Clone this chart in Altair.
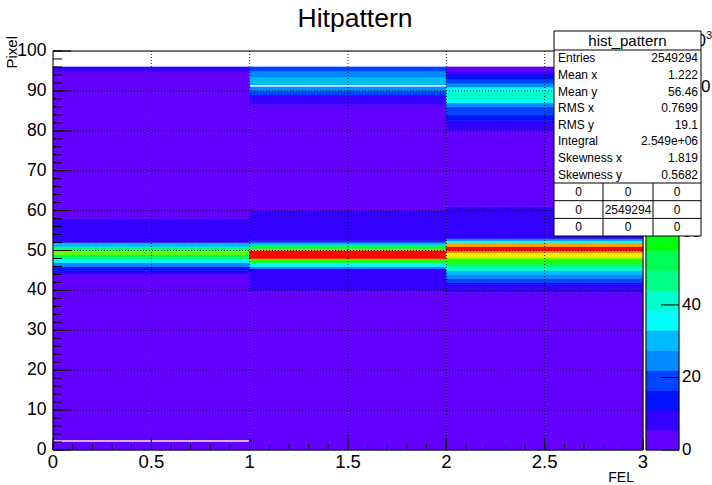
import altair as alt
import pandas as pd
import colorsys

# ---------------- data ----------------
TITLE = "Hitpattern"
X_TITLE = "FEL"
Y_TITLE = "Pixel"
ZMAX = 110000  # top of the colour palette

# FEL columns: [0,1], [1,2], [2,3]; each column: Pixel bin edges + contents
c0_edges = [0, 2.0, 2.5, 44, 45, 46, 47, 48, 49, 50, 51, 52, 58, 95, 96]
c0_counts = [2600, 0, 2800, 8000, 13000, 24000, 35000, 52000, 68000, 46000,
             30000, 7500, 3000, 6500]

c1_edges = [0, 40, 45.5, 46, 47, 48, 50, 50.5, 51.5, 52, 52.5, 60, 86.5, 89,
            90, 91, 91.5, 93.5, 95, 96]
c1_counts = [3000, 8500, 25000, 36000, 63000, 109000, 90000, 52000, 30000,
             19000, 8000, 2900, 7000, 19000, 24500, 0, 30000, 25000, 19500]

c2_edges = [0, 39.5, 41.5, 42, 43, 44, 45, 46, 47, 48, 48.5, 49.5, 50, 51, 52,
            52.5, 53, 61, 80, 82.5, 84, 86, 87, 88, 90, 91, 92, 93, 94, 95, 96]
c2_counts = [2800, 8000, 13500, 19000, 24500, 30000, 41000, 52000, 63000,
             74000, 85000, 96000, 108000, 90000, 35000, 24000, 8200, 3000,
             7800, 13000, 18500, 24000, 35000, 41000, 35000, 24500, 19000,
             13500, 8000, 3000]

x_ticks_major = [0, 0.5, 1, 1.5, 2, 2.5, 3]
x_tick_labels = ["0", "0.5", "1", "1.5", "2", "2.5", "3"]
x_ticks_minor = [i / 10 for i in range(0, 31)]
y_ticks_major = list(range(0, 101, 10))
y_tick_labels = [str(v) for v in y_ticks_major]
y_ticks_minor = list(range(0, 101, 2))
x_grid = [0.5, 1, 1.5, 2, 2.5]
y_grid = list(range(10, 100, 10))
palette_labels = [0, 20, 40, 60, 80, 100]  # x10^3

stat_names = ["Entries", "Mean x", "Mean y", "RMS x", "RMS y", "Integral",
              "Skewness x", "Skewness y"]
stat_values = ["2549294", "1.222", "56.46", "0.7699", "19.1", "2.549e+06",
               "1.819", "0.5682"]
table_values = [["0", "0", "0"], ["0", "2549294", "0"], ["0", "0", "0"]]
STATS_TITLE = "hist_pattern"

# ---------------- styling ----------------
FONT = "Liberation Sans"
W, H = 590, 399
PL, PT = 53, 51            # plot origin on the canvas
NLEV = 20

colors = []
for k in range(NLEV):
    idx = int(0.01 + (k + 0.99) * 50 / NLEV)
    hue = 280 - (idx + 1) * (280 / 50)
    r, g, b = colorsys.hls_to_rgb(hue / 360.0, 0.5, 1.0)
    colors.append("#%02x%02x%02x" % (round(r * 255), round(g * 255), round(b * 255)))
thresholds = [ZMAX * k / NLEV for k in range(1, NLEV)]
cscale = alt.Scale(type="threshold", domain=thresholds, range=colors)

xscale = alt.Scale(domain=[0, 3], nice=False, zero=False)
yscale = alt.Scale(domain=[0, 100], nice=False, zero=False)

rows = []
for xi, (edges, counts) in enumerate([(c0_edges, c0_counts),
                                      (c1_edges, c1_counts),
                                      (c2_edges, c2_counts)]):
    for lo, hi, c in zip(edges[:-1], edges[1:], counts):
        if c > 0:
            rows.append(dict(x0=xi, x1=xi + 1, y0=lo, y1=hi, count=c))
df = pd.DataFrame(rows)

heat = alt.Chart(df).mark_rect(strokeWidth=0.6).encode(
    x=alt.X("x0:Q", scale=xscale, axis=None),
    x2="x1:Q",
    y=alt.Y("y0:Q", scale=yscale, axis=None),
    y2="y1:Q",
    color=alt.Color("count:Q", scale=cscale, legend=None),
    stroke=alt.Stroke("count:Q", scale=cscale, legend=None),
)

# grid
ygrid = alt.Chart(pd.DataFrame({"v": y_grid})).mark_rule(
    color="black", strokeDash=[1, 2], strokeWidth=1, opacity=0.85
).encode(y=alt.Y("v:Q", scale=yscale, axis=None), x=alt.value(0), x2=alt.value(W))
xgrid = alt.Chart(pd.DataFrame({"v": x_grid})).mark_rule(
    color="black", strokeDash=[1, 2], strokeWidth=1, opacity=0.85
).encode(x=alt.X("v:Q", scale=xscale, axis=None), y=alt.value(0), y2=alt.value(H))

# ticks (inside the frame, as ROOT draws them)
ytm = alt.Chart(pd.DataFrame({"v": y_ticks_major})).mark_rule(color="black").encode(
    y=alt.Y("v:Q", scale=yscale, axis=None), x=alt.value(0), x2=alt.value(18))
ytn = alt.Chart(pd.DataFrame({"v": y_ticks_minor})).mark_rule(color="black").encode(
    y=alt.Y("v:Q", scale=yscale, axis=None), x=alt.value(0), x2=alt.value(9))
xtm = alt.Chart(pd.DataFrame({"v": x_ticks_major})).mark_rule(color="black").encode(
    x=alt.X("v:Q", scale=xscale, axis=None), y=alt.value(H), y2=alt.value(H - 12))
xtn = alt.Chart(pd.DataFrame({"v": x_ticks_minor})).mark_rule(color="black").encode(
    x=alt.X("v:Q", scale=xscale, axis=None), y=alt.value(H), y2=alt.value(H - 6))

# tick labels
ylab = alt.Chart(pd.DataFrame({"v": y_ticks_major, "t": y_tick_labels})).mark_text(
    font=FONT, fontSize=17.5, align="right", baseline="middle", color="black"
).encode(y=alt.Y("v:Q", scale=yscale, axis=None), x=alt.value(-6.5), text="t:N")
xlab = alt.Chart(pd.DataFrame({"v": x_ticks_major, "t": x_tick_labels})).mark_text(
    font=FONT, fontSize=18.5, align="center", baseline="top", color="black"
).encode(x=alt.X("v:Q", scale=xscale, axis=None), y=alt.value(H + 3), text="t:N")

frame = alt.Chart(pd.DataFrame({"a": [0]})).mark_rect(
    filled=False, stroke="black", strokeWidth=1
).encode(x=alt.value(0), x2=alt.value(W), y=alt.value(0), y2=alt.value(H))

# palette
pal = pd.DataFrame({"k": list(range(NLEV))})
pal["y0"] = pal["k"] * 100.0 / NLEV
pal["y1"] = (pal["k"] + 1) * 100.0 / NLEV
pal["mid"] = (pal["k"] + 0.5) * ZMAX / NLEV
PX0, PX1 = 646 - PL, 679 - PL
palette = alt.Chart(pal).mark_rect(strokeWidth=0.6).encode(
    x=alt.value(PX0), x2=alt.value(PX1),
    y=alt.Y("y0:Q", scale=yscale, axis=None), y2="y1:Q",
    color=alt.Color("mid:Q", scale=cscale, legend=None),
    stroke=alt.Stroke("mid:Q", scale=cscale, legend=None),
)
pframe = alt.Chart(pd.DataFrame({"a": [0]})).mark_rect(
    filled=False, stroke="black", strokeWidth=1
).encode(x=alt.value(PX0), x2=alt.value(PX1), y=alt.value(0), y2=alt.value(H))

plab = pd.DataFrame({"v": palette_labels})
plab["y"] = plab["v"] * 1000.0 / ZMAX * 100.0
plab["t"] = plab["v"].astype(str)
ptick = alt.Chart(plab).mark_rule(color="black").encode(
    y=alt.Y("y:Q", scale=yscale, axis=None), x=alt.value(PX1 - 18), x2=alt.value(PX1))
ptext = alt.Chart(plab).mark_text(
    font=FONT, fontSize=17, align="left", baseline="middle", color="black"
).encode(y=alt.Y("y:Q", scale=yscale, axis=None), x=alt.value(PX1 + 3), text="t:N")
pexp = alt.Chart(pd.DataFrame({"t": ["10"]})).mark_text(
    font=FONT, fontSize=17, align="right", baseline="alphabetic", color="black"
).encode(x=alt.value(706 - PL), y=alt.value(46 - PT), text="t:N")
pexp3 = alt.Chart(pd.DataFrame({"t": ["3"]})).mark_text(
    font=FONT, fontSize=11, align="left", baseline="alphabetic", color="black"
).encode(x=alt.value(706 - PL), y=alt.value(39 - PT), text="t:N")

# stats box
BX0, BX1, BY0, BY1 = 554 - PL, 701 - PL, 31 - PT, 236 - PT
HB = 50 - PT
TB = 183 - PT
box = alt.Chart(pd.DataFrame({"a": [0]})).mark_rect(
    fill="white", stroke="black", strokeWidth=1
).encode(x=alt.value(BX0), x2=alt.value(BX1), y=alt.value(BY0), y2=alt.value(BY1))
hline = alt.Chart(pd.DataFrame({"yy": [HB, TB, TB + 17.7, TB + 35.4]})).mark_rule(
    color="black", strokeWidth=1
).encode(y=alt.Y("yy:Q", scale=None, axis=None), x=alt.value(BX0), x2=alt.value(BX1))
vline = alt.Chart(pd.DataFrame({"xx": [603 - PL, 653 - PL]})).mark_rule(
    color="black", strokeWidth=1
).encode(x=alt.X("xx:Q", scale=None, axis=None), y=alt.value(TB), y2=alt.value(BY1))
stitle = alt.Chart(pd.DataFrame({"t": [STATS_TITLE]})).mark_text(
    font=FONT, fontSize=15, align="center", baseline="middle", color="black"
).encode(x=alt.value((BX0 + BX1) / 2), y=alt.value((BY0 + HB) / 2), text="t:N")

row_h = (TB - HB) / len(stat_names)
sdf = pd.DataFrame({"name": stat_names, "val": stat_values})
sdf["yy"] = [HB + row_h * (i + 0.5) for i in range(len(stat_names))]
sname = alt.Chart(sdf).mark_text(
    font=FONT, fontSize=12, align="left", baseline="middle", color="black"
).encode(x=alt.value(BX0 + 4), y=alt.Y("yy:Q", scale=None, axis=None), text="name:N")
sval = alt.Chart(sdf).mark_text(
    font=FONT, fontSize=12, align="right", baseline="middle", color="black"
).encode(x=alt.value(BX1 - 3), y=alt.Y("yy:Q", scale=None, axis=None), text="val:N")

trows = []
cxs = [(554 + 603) / 2 - PL, (603 + 653) / 2 - PL, (653 + 701) / 2 - PL]
for r, rowv in enumerate(table_values):
    for c, v in enumerate(rowv):
        trows.append(dict(xx=cxs[c], yy=TB + 17.7 * (r + 0.5), t=v))
ttext = alt.Chart(pd.DataFrame(trows)).mark_text(
    font=FONT, fontSize=12, align="center", baseline="middle", color="black"
).encode(x=alt.X("xx:Q", scale=None, axis=None), y=alt.Y("yy:Q", scale=None, axis=None), text="t:N")

# titles
title = alt.Chart(pd.DataFrame({"t": [TITLE]})).mark_text(
    font=FONT, fontSize=26.5, align="center", baseline="middle", color="black"
).encode(x=alt.value(355 - PL), y=alt.value(19 - PT), text="t:N")
ytitle = alt.Chart(pd.DataFrame({"t": [Y_TITLE]})).mark_text(
    font=FONT, fontSize=15, align="right", baseline="middle", angle=270, color="black"
).encode(x=alt.value(12 - PL), y=alt.value(36 - PT), text="t:N")
xtitle = alt.Chart(pd.DataFrame({"t": [X_TITLE]})).mark_text(
    font=FONT, fontSize=14, align="right", baseline="middle", color="black"
).encode(x=alt.value(634 - PL), y=alt.value(478 - PT), text="t:N")

chart = alt.layer(
    heat, ygrid, xgrid, ytm, ytn, xtm, xtn, frame, ylab, xlab,
    palette, ptick, pframe, ptext, pexp, pexp3,
    box, hline, vline, stitle, sname, sval, ttext,
    title, ytitle, xtitle,
).resolve_scale(color="independent", stroke="independent").properties(
    width=W, height=H,
    autosize=alt.AutoSizeParams(type="none"),
    padding={"left": PL, "top": PT, "right": 712 - PL - W, "bottom": 485 - PT - H},
).configure_view(stroke=None).configure(background="white")

chart.save("out.html", embed_options={"renderer": "svg", "actions": False})
